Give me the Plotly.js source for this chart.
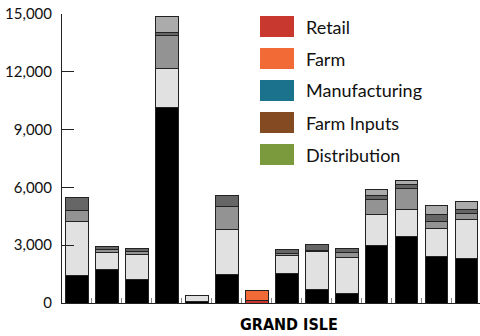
<!DOCTYPE html>
<html>
<head>
<meta charset="utf-8">
<script src="https://cdn.plot.ly/plotly-3.0.1.min.js"></script>
<style>html,body{margin:0;padding:0;background:#fff;}#chart{width:480px;height:336px;}</style>
</head>
<body>
<div id="chart"></div>
<script>
// Data
const counties = ["Addison","Bennington","Caledonia","Chittenden","Essex","Franklin","Grand Isle","Lamoille","Orange","Orleans","Rutland","Washington","Windham","Windsor"];
const highlight = "Grand Isle";
const sectors = ["Retail","Farm","Manufacturing","Farm Inputs","Distribution"];
const retail        = [1420,1750,1230,10130,100,1455,130,1540,700,490,3000,3430,2390,2310];
const farm          = [2790,870,1265,2030,280,2375,510,930,1990,1850,1570,1400,1455,2000];
const manufacturing = [590,140,180,1710,0,1180,0,100,50,280,800,1090,385,330];
const farmInputs    = [680,150,150,150,0,570,0,200,300,210,210,210,340,210];
const distribution  = [0,0,0,860,0,0,0,0,0,0,310,210,490,420];
const yTickVals = [0,3000,6000,9000,12000,15000];

// Styles
const sectorColors = ["#c9382f","#f26a35","#1a728c","#844b22","#7a9a3d"];
const sectorGrays  = ["#000000","#e1e1e1","#939393","#666666","#ababab"];
const values = [retail, farm, manufacturing, farmInputs, distribution];

const traces = sectors.map((s, i) => ({
  type: "bar",
  name: s,
  x: counties,
  y: values[i],
  showlegend: false,
  marker: {
    color: counties.map(c => c === highlight ? sectorColors[i] : sectorGrays[i]),
    line: {color: "#222", width: 1}
  },
  hoverinfo: "x+y+name"
}));

// Legend built as shapes + annotations (pixel positions converted to paper coords)
const L = 62, R = 480, T = 14, B = 303;
const pw = R - L, ph = B - T;
const px = v => (v - L) / pw;
const py = v => (B - v) / ph;
const legRow0 = 26.5, legStep = 32;
const shapes = [], annotations = [];
sectors.forEach((s, i) => {
  const cy = legRow0 + i * legStep;
  shapes.push({type: "rect", xref: "paper", yref: "paper",
    x0: px(260), x1: px(294), y0: py(cy + 10.5), y1: py(cy - 10.5),
    fillcolor: sectorColors[i], line: {width: 0}});
  annotations.push({xref: "paper", yref: "paper", x: px(304), y: py(cy),
    xanchor: "left", yanchor: "middle", showarrow: false, text: s,
    font: {family: "Lato, 'Noto Sans', sans-serif", size: 18, color: "#111"}});
});
annotations.push({xref: "paper", yref: "paper", x: px(289), y: py(324.5),
  xanchor: "center", yanchor: "middle", showarrow: false, text: "<b>GRAND ISLE</b>",
  font: {family: "'DejaVu Sans Condensed', 'Liberation Sans Narrow', sans-serif", size: 16, color: "#000"}});

const layout = {
  width: 480, height: 336,
  margin: {l: L, r: 0, t: T, b: 336 - B, pad: 0},
  paper_bgcolor: "#fff", plot_bgcolor: "#fff",
  barmode: "stack",
  bargap: 0.243,
  showlegend: false,
  xaxis: {
    type: "category", range: [-0.5, 13.45],
    showticklabels: false, showgrid: false, zeroline: false,
    showline: true, linecolor: "#222", linewidth: 1,
    ticks: "inside", tickson: "boundaries", ticklen: 5, tickcolor: "#888", tickwidth: 1
  },
  yaxis: {
    range: [0, 15000], tickvals: yTickVals,
    ticktext: yTickVals.map(v => v.toLocaleString("en-US")),
    showgrid: false, zeroline: false,
    showline: true, linecolor: "#222", linewidth: 1,
    ticks: "inside", ticklen: 12, tickcolor: "#222", tickwidth: 1,
    ticklabelstandoff: 6,
    tickfont: {family: "Lato, 'Noto Sans', sans-serif", size: 15, color: "#111"}
  },
  shapes: shapes,
  annotations: annotations
};

Plotly.newPlot("chart", traces, layout, {displayModeBar: false, staticPlot: true});
</script>
</body>
</html>
